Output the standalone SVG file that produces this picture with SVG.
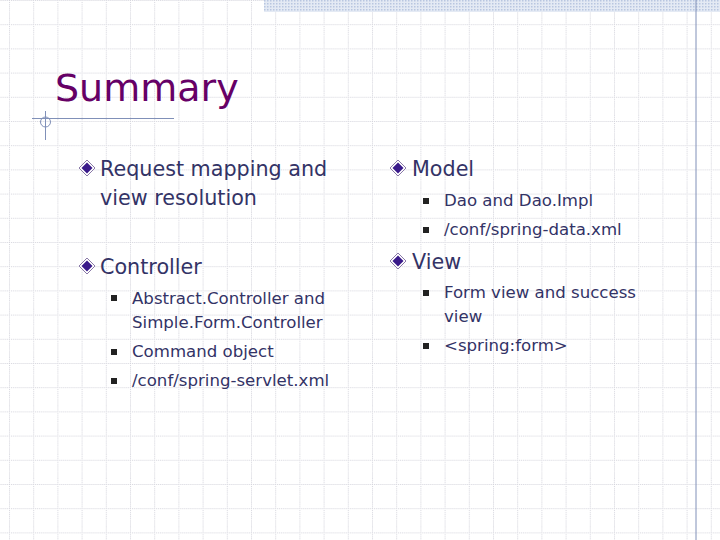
<svg xmlns="http://www.w3.org/2000/svg" width="720" height="540" viewBox="0 0 720 540">
<defs>
<pattern id="grid" width="24.2" height="24.2" patternUnits="userSpaceOnUse" x="9" y="0">
<path d="M0 0.5H24.2M0.5 0V24.2" fill="none" stroke="#d4d4dc" stroke-width="1" stroke-dasharray="1 1"/>
</pattern>
<pattern id="dots" width="3" height="3" patternUnits="userSpaceOnUse">
<rect width="3" height="3" fill="#e4eaf4"/><rect width="1.5" height="1.5" fill="#b8c6e0"/>
</pattern>
<g id="dia"><path d="M0 -8L8 0L0 8L-8 0Z" fill="#fff" stroke="#8a7aa8" stroke-width="1"/><path d="M0 -5.5L5.5 0L0 5.5L-5.5 0Z" fill="#3a1a8a"/></g>
<rect id="sq" x="-3" y="-3" width="6" height="6" fill="#222"/>
</defs>
<style>
.t{font-family:"DejaVu Sans",Verdana,sans-serif;fill:#333366;font-size:20.7px}
.s{font-family:"DejaVu Sans",Verdana,sans-serif;fill:#333366;font-size:16.6px}
</style>
<rect width="720" height="540" fill="#fff"/>
<rect width="720" height="540" fill="url(#grid)"/>
<rect x="264" y="0" width="456" height="12" fill="url(#dots)"/>
<line x1="696" y1="0" x2="696" y2="540" stroke="#8090b8" stroke-width="1"/>
<g id="title">
<text x="55" y="101" font-family="DejaVu Sans,Verdana,sans-serif" font-size="38" fill="#660066">Summary</text>
<line x1="32" y1="118.5" x2="174" y2="118.5" stroke="#8090b8"/>
<line x1="45.5" y1="111" x2="45.5" y2="140" stroke="#8090b8"/>
<circle cx="45.5" cy="122" r="5" fill="none" stroke="#8090b8"/>
</g>
<g id="left">
<use href="#dia" x="87" y="168"/>
<text class="t" x="100" y="176">Request mapping and</text>
<text class="t" x="100" y="205">view resolution</text>
<use href="#dia" x="87" y="266"/>
<text class="t" x="100" y="274">Controller</text>
<use href="#sq" x="114" y="298"/>
<text class="s" x="132" y="304">Abstract.Controller and</text>
<text class="s" x="132" y="328">Simple.Form.Controller</text>
<use href="#sq" x="114" y="352"/>
<text class="s" x="132" y="357">Command object</text>
<use href="#sq" x="114" y="381"/>
<text class="s" x="132" y="386">/conf/spring-servlet.xml</text>
</g>
<g id="right">
<use href="#dia" x="398" y="168"/>
<text class="t" x="412" y="176">Model</text>
<use href="#sq" x="426" y="201"/>
<text class="s" x="444" y="206">Dao and Dao.Impl</text>
<use href="#sq" x="426" y="230"/>
<text class="s" x="444" y="235">/conf/spring-data.xml</text>
<use href="#dia" x="398" y="261"/>
<text class="t" x="412" y="269">View</text>
<use href="#sq" x="426" y="293"/>
<text class="s" x="444" y="298">Form view and success</text>
<text class="s" x="444" y="322">view</text>
<use href="#sq" x="426" y="346"/>
<text class="s" x="444" y="351">&lt;spring:form&gt;</text>
</g>
</svg>
